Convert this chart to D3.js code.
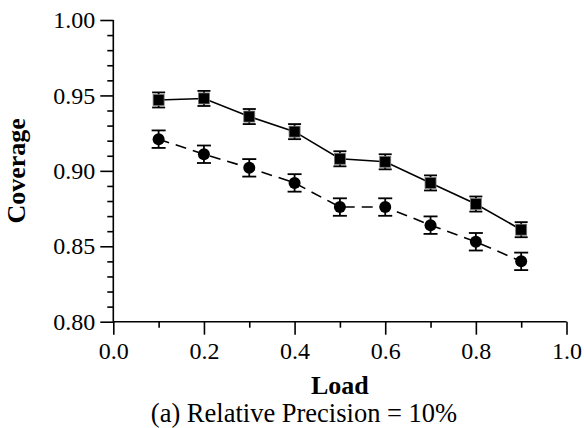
<!DOCTYPE html>
<html><head><meta charset="utf-8">
<script src="https://cdn.jsdelivr.net/npm/d3@7"></script>
<style>body{margin:0;background:#fff}svg{display:block}</style>
</head><body>
<svg id="c" width="584" height="428"></svg>
<script>
const loads = [0.1,0.2,0.3,0.4,0.5,0.6,0.7,0.8,0.9];
const squareCoverage = [0.947,0.948,0.936,0.926,0.908,0.906,0.892,0.878,0.861];
const squareError = [0.005,0.005,0.005,0.005,0.005,0.005,0.005,0.005,0.005];
const circleCoverage = [0.921,0.911,0.902,0.892,0.876,0.876,0.864,0.853,0.840];
const circleError = [0.0058,0.0058,0.0058,0.0058,0.0058,0.0058,0.0058,0.0058,0.0058];
const xTicks = [0.0,0.2,0.4,0.6,0.8,1.0];
const yTicks = [0.80,0.85,0.90,0.95,1.00];
const xTitle = "Load", yTitle = "Coverage", subtitle = "(a) Relative Precision = 10%";

const svg = d3.select("#c");
const m = {l:113.3, r:566.5, t:20, b:321.7};
const x = d3.scaleLinear().domain([0,1]).range([m.l,m.r]);
const y = d3.scaleLinear().domain([0.8,1.0]).range([m.b,m.t]);
const serif = "'Times New Roman', 'Liberation Serif', serif";

const xMinor = d3.range(0,11).map(i=>i/10).filter(v=>Math.round(v*10)%2===1);
const yMinor = d3.range(80,101).map(i=>i/100).filter(v=>Math.round(v*100)%5!==0);

const xAx = svg.append("g").attr("transform",`translate(0,${m.b})`)
  .call(d3.axisBottom(x).tickValues(xTicks).tickSize(13).tickPadding(7).tickFormat(d3.format(".1f")));
const xAxMin = svg.append("g").attr("transform",`translate(0,${m.b})`)
  .call(d3.axisBottom(x).tickValues(xMinor).tickSize(6).tickFormat(""));
const yAx = svg.append("g").attr("transform",`translate(${m.l},0)`)
  .call(d3.axisLeft(y).tickValues(yTicks).tickSize(13).tickPadding(5).tickFormat(d3.format(".2f")));
const yAxMin = svg.append("g").attr("transform",`translate(${m.l},0)`)
  .call(d3.axisLeft(y).tickValues(yMinor).tickSize(6).tickFormat(""));
[xAx,xAxMin,yAx,yAxMin].forEach(g=>{
  g.attr("font-family",serif).attr("font-size",24);
  g.select(".domain").attr("stroke","#000").attr("stroke-width",1.6);
  g.selectAll(".tick line").attr("stroke","#000").attr("stroke-width",1.6);
  g.selectAll(".tick text").attr("fill","#000");
});
xAx.select(".domain").attr("d",`M${m.l},0H${m.r}`);
xAxMin.select(".domain").remove();
yAx.select(".domain").attr("d",`M0,${m.b}V${m.t}`);
yAxMin.select(".domain").remove();

svg.append("text").attr("x",(m.l+m.r)/2).attr("y",394).attr("text-anchor","middle")
  .attr("font-family",serif).attr("font-weight","bold").attr("font-size",26).text(xTitle);
svg.append("text").attr("transform",`translate(25,${(m.t+m.b)/2}) rotate(-90)`).attr("text-anchor","middle")
  .attr("font-family",serif).attr("font-weight","bold").attr("font-size",26).text(yTitle);
svg.append("text").attr("x",304).attr("y",422).attr("text-anchor","middle")
  .attr("font-family",serif).attr("font-size",26.5).text(subtitle);

const sq = loads.map((l,i)=>({x:l,y:squareCoverage[i],e:squareError[i]}));
const ci = loads.map((l,i)=>({x:l,y:circleCoverage[i],e:circleError[i]}));
const line = d3.line().x(d=>x(d.x)).y(d=>y(d.y));

svg.append("path").datum(sq).attr("d",line).attr("fill","none").attr("stroke","#000").attr("stroke-width",1.6);
svg.append("path").datum(ci).attr("d",line).attr("fill","none").attr("stroke","#000").attr("stroke-width",1.6).attr("stroke-dasharray","11,7");

function errBars(data, cap){
  const g = svg.append("g").attr("stroke","#000").attr("stroke-width",1.8);
  data.forEach(d=>{
    g.append("line").attr("x1",x(d.x)).attr("x2",x(d.x)).attr("y1",y(d.y-d.e)).attr("y2",y(d.y+d.e));
    g.append("line").attr("x1",x(d.x)-cap).attr("x2",x(d.x)+cap).attr("y1",y(d.y-d.e)).attr("y2",y(d.y-d.e));
    g.append("line").attr("x1",x(d.x)-cap).attr("x2",x(d.x)+cap).attr("y1",y(d.y+d.e)).attr("y2",y(d.y+d.e));
  });
}
errBars(sq,6.5);
errBars(ci,7);

svg.append("g").selectAll("rect").data(sq).join("rect")
  .attr("x",d=>x(d.x)-5.5).attr("y",d=>y(d.y)-5.5).attr("width",11).attr("height",11)
  .attr("fill","#000").attr("stroke","#777").attr("stroke-width",0.8);
svg.append("g").selectAll("circle").data(ci).join("circle")
  .attr("cx",d=>x(d.x)).attr("cy",d=>y(d.y)).attr("r",6).attr("fill","#000");
</script>
</body></html>
